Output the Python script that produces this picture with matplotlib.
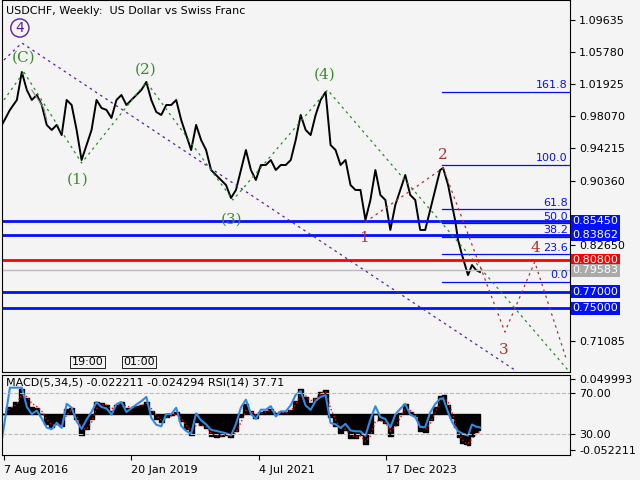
import matplotlib
matplotlib.use("Agg")
import matplotlib.pyplot as plt
import numpy as np

# weekly index (bar number) and price
wk = [0,8,15,20,25,30,35,40,45,50,55,60,65,70,75,80,85,90,95,100,105,110,115,120,125,130,135,140,145,150,155,160,165,170,175,180,185,190,195,200,205,210,215,220,225,230,235,240,245,250,255,260,265,270,275,280,285,290,295,300,305,310,315,320,325,330,335,340,345,350,355,360,365,370,375,380,385,390,395,400,405,410,415,420,425,430,435,440,443,448,452,455,458,462,465,468,472,476,480]
ypx = [125,110,100,72,90,100,95,105,125,130,125,135,100,105,130,160,145,130,100,108,110,118,100,95,105,100,95,90,82,100,112,115,105,105,100,120,135,150,125,140,150,170,175,180,185,198,190,170,150,170,180,165,165,160,170,165,165,160,140,115,130,135,115,100,92,145,150,165,160,185,190,190,220,200,170,195,200,230,205,190,175,195,200,230,230,210,190,170,168,185,205,220,240,255,265,275,265,270,272]
price = [round(1.09635 - (y - 20) * 0.0012009, 4) for y in ypx]

yticks = [1.09635, 1.05780, 1.01925, 0.98070, 0.94215, 0.90360, 0.82650, 0.71085]
blue_levels = [0.85450, 0.83862, 0.77000, 0.75000]
red_level = 0.80800
cur_price = 0.79583
fib_pct = [161.8, 100.0, 61.8, 50.0, 38.2, 23.6, 0.0]
fib_lo, fib_hi = 0.7818, 0.9228
date_pos = [2, 130, 258, 386]
date_lab = ["7 Aug 2016", "20 Jan 2019", "4 Jul 2021", "17 Dec 2023"]

def py(y):
    return 1.09635 - (y - 20) * 0.0012009

BG = "#f4f4f4"
fig = plt.figure(figsize=(6.4, 4.8), dpi=100, facecolor=BG)
ax = fig.add_axes([0.003, 0.225, 0.887, 0.775], facecolor=BG)
ax.set_xlim(0, 570)
ax.set_ylim(py(372), py(0))
ax.plot(wk, price, color="black", lw=1.4)

for lv in blue_levels:
    ax.axhline(lv, color="#0010ff", lw=2)
ax.axhline(red_level, color="#ff0000", lw=2)
ax.axhline(cur_price, color="#bbbbbb", lw=1)
for p in fib_pct:
    v = fib_lo + (fib_hi - fib_lo) * p / 100
    ax.plot([442, 570], [v, v], color="#0010ff", lw=0.9)
    ax.text(568, v + 0.002, f"{p:.1f}", color="#0010ff", fontsize=8, ha="right", va="bottom", family="DejaVu Sans")

def wline(pts, c):
    ax.plot([p[0] for p in pts], [py(p[1]) for p in pts], ls=(0, (2, 3)), color=c, lw=0.9)
wline([(2, 60), (20, 43), (515, 370)], "#5a1fa0")
wline([(22, 72), (80, 163), (145, 82), (232, 200), (327, 90), (570, 372)], "#2a8a2a")
wline([(2, 100), (22, 72)], "#2a8a2a")
wline([(365, 222), (443, 168), (505, 332), (535, 262), (567, 360)], "#b03030")
ax.plot([30, 42, 45], [py(90), py(108), py(120)], color="#888888", lw=0.8)

g = "#3a8a2a"
for t, x, y in [("(C)", 22, 58), ("(1)", 76, 180), ("(2)", 144, 70), ("(3)", 231, 220), ("(4)", 324, 75)]:
    ax.text(x, py(y), t, color=g, fontsize=11, ha="center", va="center", family="DejaVu Serif")
for t, x, y in [("1", 364, 238), ("2", 443, 155), ("3", 504, 350), ("4", 536, 248)]:
    ax.text(x, py(y), t, color="#b03030", fontsize=11, ha="center", va="center", family="DejaVu Serif")
ax.text(18, py(28), "4", color="#5a1fa0", fontsize=10, ha="center", va="center",
        bbox=dict(boxstyle="circle,pad=0.15", fc="none", ec="#5a1fa0"))
ax.text(4, py(11), "USDCHF, Weekly:  US Dollar vs Swiss Franc", fontsize=8, va="center")
ax.text(70, py(362), "19:00", fontsize=8, va="center", bbox=dict(fc=BG, ec="black", lw=0.6, pad=1))
ax.text(122, py(362), "01:00", fontsize=8, va="center", bbox=dict(fc=BG, ec="black", lw=0.6, pad=1))

ax.yaxis.tick_right()
ax.set_yticks(yticks)
ax.set_yticklabels([f"{v:.5f}" for v in yticks], fontsize=8)
ax.set_xticks([])
for lv, c in [(0.85450, "#0010ff"), (0.83862, "#0010ff"), (red_level, "#ff0000"), (cur_price, "#aaaaaa"), (0.77000, "#0010ff"), (0.75000, "#0010ff")]:
    ax.text(1.005, lv, f"{lv:.5f}", transform=ax.get_yaxis_transform(), color="white", fontsize=8,
            va="center", ha="left", bbox=dict(fc=c, ec="none", pad=1))

# MACD / RSI panel computed from the price series
pr = np.array(price)
def ema(a, n):
    out = np.zeros_like(a); k = 2 / (n + 1); out[0] = a[0]
    for i in range(1, len(a)):
        out[i] = a[i] * k + out[i - 1] * (1 - k)
    return out
macd = ema(pr, 2) - ema(pr, 8)
sig = ema(macd, 2)
d = np.diff(pr, prepend=pr[0])
up = ema(np.clip(d, 0, None), 6); dn = ema(np.clip(-d, 0, None), 6) + 1e-9
rsi = 100 - 100 / (1 + up / dn)
m = macd / np.abs(macd).max() * 0.045

ax2 = fig.add_axes([0.003, 0.052, 0.887, 0.167], facecolor=BG)
ax2.set_xlim(0, 570)
ax2.set_ylim(-0.060, 0.056)
ax2.fill_between(wk, 0, m, color="black", step="mid")
ax2.plot(wk, sig / np.abs(macd).max() * 0.045, color="red", ls=":", lw=1)
r = np.clip((rsi - 50) / 40 * 0.030, -0.04, 0.04)
ax2.plot(wk, r, color="#2e8ae6", lw=1.5)
for lv in [0.030, -0.030]:
    ax2.axhline(lv, color="#bbbbbb", ls="--", lw=0.8)
ax2.yaxis.tick_right()
ax2.set_yticks([0.049993, 0.030, -0.030, -0.052211])
ax2.set_yticklabels(["0.049993", "70.00", "30.00", "-0.052211"], fontsize=8)
ax2.set_xticks(date_pos)
ax2.set_xticklabels(date_lab, fontsize=8, ha="left")
ax2.text(4, 0.045, "MACD(5,34,5) -0.022211 -0.024294 RSI(14) 37.71", fontsize=8, va="center")

fig.savefig("out.png", dpi=100, facecolor=BG)
